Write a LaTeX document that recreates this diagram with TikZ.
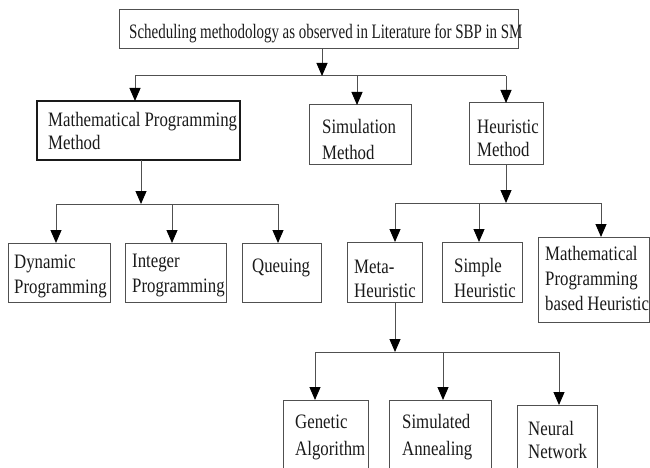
\documentclass[tikz,border=0pt]{standalone}
\usepackage{fontspec}
\setmainfont{Liberation Serif}[FakeStretch=0.82]
\newfontfamily\titlefont{Liberation Serif}[FakeStretch=0.73]
\usetikzlibrary{arrows.meta}

\definecolor{edge}{HTML}{505050}
\definecolor{ink}{HTML}{1A1A1A}

% condensed label fonts with tighter word spaces
\newcommand\boxfont[1]{\fontsize{20.5}{#1}\selectfont\spaceskip 4pt\relax}
\newcommand\headfont{\titlefont\fontsize{20.5}{24}\selectfont\spaceskip 3.6pt\relax}

\begin{document}
\begin{tikzpicture}[x=1pt, y=-1pt,
  box/.style={draw=edge, line width=1pt, inner sep=0pt, outer sep=0pt,
              anchor=north west},
  boldbox/.style={box, line width=2pt, draw=ink},
  lbl/.style={anchor=base west, inner sep=0pt, text width=300pt,
              align=flush left, text=ink, font=\boxfont{#1}},
  lbl/.default=24.5,
  link/.style={draw=edge, line width=1pt},
  arrow/.style={link, -{Triangle[length=13pt, width=11pt, color=black]}}
]
\useasboundingbox (0,0) rectangle (650,468);

% ---- boxes ----
\node[box, minimum width=399pt, minimum height=39pt] (top) at (119,10) {};
\node[boldbox, minimum width=203pt, minimum height=59pt] (mpm) at (37,101) {};
\node[box, minimum width=102pt, minimum height=59pt] (sim) at (309,105) {};
\node[box, minimum width=74pt, minimum height=61pt] (heur) at (469,103) {};

\node[box, minimum width=102pt, minimum height=59pt] (dyn) at (8,243) {};
\node[box, minimum width=101pt, minimum height=59pt] (int) at (125,243) {};
\node[box, minimum width=79pt, minimum height=59pt] (que) at (242,243) {};

\node[box, minimum width=75pt, minimum height=60pt] (meta) at (347,242) {};
\node[box, minimum width=80pt, minimum height=60pt] (simple) at (442,242) {};
\node[box, minimum width=111pt, minimum height=85pt] (mpbh) at (538,237) {};

\node[box, minimum width=85pt, minimum height=80pt] (ga) at (283,400) {};
\node[box, minimum width=102pt, minimum height=80pt] (sa) at (389,400) {};
\node[box, minimum width=80pt, minimum height=75pt] (nn) at (517,405) {};

% ---- labels ----
\node[anchor=base west, inner sep=0pt, text=ink, font=\headfont] (ttop) at (129,39)
  {Scheduling methodology as observed in Literature for SBP in SM};
\node[lbl=23] (tmpm) at (48,126) {Mathematical Programming\\Method};
\node[lbl=25] (tsim) at (322,134) {Simulation\\Method};
\node[lbl=24] (theur) at (477,133) {Heuristic\\Method};

\node[lbl=25] (tdyn) at (14,268) {Dynamic\\Programming};
\node[lbl=25] (tint) at (132,267) {Integer\\Programming};
\node[lbl] (tque) at (252,272) {Queuing};

\node[lbl=24] (tmeta) at (354,273) {Meta-\\Heuristic};
\node[lbl=25] (tsimple) at (454,272) {Simple\\Heuristic};
\node[lbl=25] (tmpbh) at (545,260) {Mathematical\\Programming\\based Heuristic};

\node[lbl=27] (tga) at (295,428) {Genetic\\Algorithm};
\node[lbl=27] (tsa) at (402,428) {Simulated\\Annealing};
\node[lbl=23] (tnn) at (528,435) {Neural\\Network};

% ---- junction points on the branch lines ----
\coordinate (a0) at (322,76);
\coordinate (a1) at (135,76);
\coordinate (a2) at (357,76);
\coordinate (a3) at (506,76);

\coordinate (b0) at (141,204);
\coordinate (b1) at (56,204);
\coordinate (b2) at (172,204);
\coordinate (b3) at (278,204);

\coordinate (c0) at (506,203);
\coordinate (c1) at (395,203);
\coordinate (c2) at (479,203);
\coordinate (c3) at (601,203);

\coordinate (d0) at (395,352);
\coordinate (d1) at (315,352);
\coordinate (d2) at (443,352);
\coordinate (d3) at (559,352);

% ---- level 1 ----
\draw[link] (a1) -- (a3);
\draw[arrow] (a0 |- top.south) -- (a0);
\draw[arrow] (a1) -- (a1 |- mpm.north);
\draw[arrow] (a2) -- (a2 |- sim.north);
\draw[arrow] (a3) -- (a3 |- heur.north);

% ---- mathematical programming branch ----
\draw[link] (b1) -- (b3);
\draw[arrow] (b0 |- mpm.south) -- (b0);
\draw[arrow] (b1) -- (b1 |- dyn.north);
\draw[arrow] (b2) -- (b2 |- int.north);
\draw[arrow] (b3) -- (b3 |- que.north);

% ---- heuristic branch ----
\draw[link] (c1) -- (c3);
\draw[arrow] (c0 |- heur.south) -- (c0);
\draw[arrow] (c1) -- (c1 |- meta.north);
\draw[arrow] (c2) -- (c2 |- simple.north);
\draw[arrow] (c3) -- (c3 |- mpbh.north);

% ---- meta-heuristic branch ----
\draw[link] (d1) -- (d3);
\draw[arrow] (d0 |- meta.south) -- (d0);
\draw[arrow] (d1) -- (d1 |- ga.north);
\draw[arrow] (d2) -- (d2 |- sa.north);
\draw[arrow] (d3) -- (d3 |- nn.north);
\end{tikzpicture}
\end{document}
